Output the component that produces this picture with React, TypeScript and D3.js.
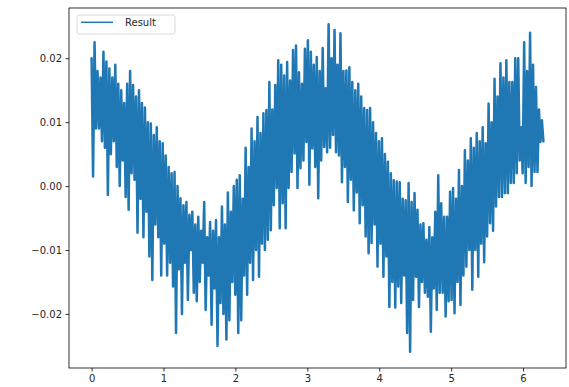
import React, { useEffect, useRef } from 'react';
import * as d3 from 'd3';

const resultValues = [
  20, 1.5, 22.5, 9, 18, 9, 17, 7, 21, 6, 19.5, -1.4, 18.4, 5, 17, 7,
  19, 3, 16, 0, 15, 4, 13, -1.7, 16, -3.7, 18, 2, 15.8, 1, 14, -7.3,
  15, -2, 13, -8, 12.3, -4, 10, -11, 9.8, -14.7, 8, -6, 9.2, -8, 7, -14,
  6.7, -9, 4.8, -14, 3, -12, 2, -15.7, 2.2, -23, 0, -13, -1.9, -20, -3, -12,
  -2.5, -17.8, -4.5, -10, -4, -16.7, -6, -18, -4.8, -15, -7, -12, -2.5, -19.4, -8, -14,
  -5.6, -21.7, -7, -16, -5.3, -25, -8, -18.3, -3.2, -20, -6, -24, -1, -21, -4, -15,
  0, -17, 1, -23, 1.7, -21, -2, -14, 6, -17, 3, -12, 9, -14.7, 7, -10,
  10.8, -14.2, 8.3, -9, 11.4, -10, 11.9, -8.4, 16.3, -6.9, 12, -3, 15.8, -0.3, 19.7, -6.6,
  19, -2.7, 17.3, -6.6, 19.4, -0.3, 16.5, 2.2, 21.3, 5.1, 22, -0.3, 17.8, 2.8, 16, 4,
  21.5, 6.9, 22.8, 0.2, 21, 5.9, 19, 3, 20.2, -1.9, 18, 4, 21.6, 6.1, 15.3, 5.3,
  25.3, 6, 20, 8, 24.4, 5.3, 19, 4.8, 23.9, 0.6, 18, 3, 18.1, -2.5, 18.6, 1,
  16.3, -3.8, 15, -1, 16, -5.8, 14, -3, 12.2, -7.9, 11.9, -10.5, 12.2, -8.9, 10, -6,
  8.3, -12.6, 7, -9, 7.5, -14.2, 5, -11, 3.8, -18.9, 2, -15, 0.9, -19, 0.7, -15.7,
  0.6, -18.3, -2, -14, -2.2, -23, 0.5, -25.9, -2.5, -17.8, -1.1, -14.2, -3.7, -18.9, -6, -15,
  -5.8, -16.7, -8.4, -17.3, -6.4, -22.8, -8, -16, -4, -19.4, 1.7, -16.7, -2.7, -16.7, -4.8, -20.4,
  -4.8, -18, -0.9, -17.8, -0.3, -19.9, -2, -15, 2.5, -18.6, 0, -14, 5.6, -12.6, 4, -10,
  7.5, -16.2, 6, -10, 8.3, -14.2, 7, -9, 9.2, -11.9, 6.7, -7.9, 12.9, -5.8, 10, -7,
  16.8, -3.2, 14, -1.7, 19.2, -1.7, 17, -1.1, 19.7, -1.1, 16.3, 0.5, 16.3, 0.5, 20, 2,
  20, 4, 9.2, 2, 22.5, 0.5, 18, 3, 24, 0, 19, 2.2, 15.5, 2.2, 12, 6.9,
  10.3, 7,
];

const xStart = 0;
const xEnd = 2 * Math.PI;
const xTicks = [0, 1, 2, 3, 4, 5, 6];
const yTicks = [-0.02, -0.01, 0, 0.01, 0.02];
const seriesName = 'Result';

const width = 569;
const height = 387;

const App = () => {
  const svgRef = useRef<SVGSVGElement>(null);

  useEffect(() => {
    const svg = d3.select(svgRef.current);
    svg.selectAll('*').remove();

    const margin = { top: 8, right: 3, bottom: 19, left: 69 };
    const n = resultValues.length;
    const data = resultValues.map((v, i) => ({
      x: xStart + (xEnd - xStart) * i / (n - 1),
      y: v / 1000,
    }));

    // matplotlib style 5% padding
    const xPad = (xEnd - xStart) * 0.05;
    const [yMin, yMax] = d3.extent(data, d => d.y) as [number, number];
    const yPad = (yMax - yMin) * 0.05;

    const xScale = d3.scaleLinear()
      .domain([xStart - xPad, xEnd + xPad])
      .range([margin.left, width - margin.right]);

    const yScale = d3.scaleLinear()
      .domain([yMin - yPad, yMax + yPad])
      .range([height - margin.bottom, margin.top]);

    const font = 'DejaVu Sans, sans-serif';

    // line
    const line = d3.line<{ x: number; y: number }>()
      .x(d => xScale(d.x))
      .y(d => yScale(d.y));

    svg.append('path')
      .datum(data)
      .attr('d', line)
      .attr('fill', 'none')
      .attr('stroke', '#1f77b4')
      .attr('stroke-width', 2.5)
      .attr('stroke-linejoin', 'round')
      .attr('stroke-linecap', 'round');

    // X axis
    const xAxis = svg.append('g')
      .attr('transform', `translate(0,${height - margin.bottom})`)
      .call(d3.axisBottom(xScale).tickValues(xTicks).tickFormat(d3.format('d')).tickSize(3.5).tickPadding(3.5));
    xAxis.select('.domain').remove();

    // Y axis
    const yAxis = svg.append('g')
      .attr('transform', `translate(${margin.left},0)`)
      .call(d3.axisLeft(yScale).tickValues(yTicks)
        .tickFormat(d => d3.format('.2f')(d as number).replace('-', '\u2212'))
        .tickSize(3.5).tickPadding(3.5));
    yAxis.select('.domain').remove();

    [xAxis, yAxis].forEach(ax => {
      ax.selectAll('line').attr('stroke', '#000').attr('stroke-width', 0.8);
      ax.selectAll('text').attr('fill', '#262626').attr('font-size', 10).attr('font-family', font);
    });

    // frame
    svg.append('rect')
      .attr('x', margin.left)
      .attr('y', margin.top)
      .attr('width', width - margin.left - margin.right)
      .attr('height', height - margin.top - margin.bottom)
      .attr('fill', 'none')
      .attr('stroke', '#000')
      .attr('stroke-width', 0.8);

    // Legend
    const legend = svg.append('g')
      .attr('transform', `translate(${margin.left + 8},${margin.top + 7})`);

    legend.append('rect')
      .attr('width', 98)
      .attr('height', 19)
      .attr('rx', 2)
      .attr('fill', 'white')
      .attr('fill-opacity', 0.8)
      .attr('stroke', '#d0d0d0')
      .attr('stroke-width', 0.8);

    legend.append('line')
      .attr('x1', 4).attr('x2', 36)
      .attr('y1', 7.3).attr('y2', 7.3)
      .attr('stroke', '#1f77b4')
      .attr('stroke-width', 1.5);

    legend.append('text')
      .attr('x', 48)
      .attr('y', 7.3)
      .attr('dy', '0.35em')
      .attr('font-size', 10)
      .attr('font-family', font)
      .attr('fill', '#262626')
      .text(seriesName);
  }, []);

  return (
    <svg ref={svgRef} width={width} height={height}
      style={{ position: 'absolute', left: 0, top: 0, background: 'white' }}></svg>
  );
};

export default App;
